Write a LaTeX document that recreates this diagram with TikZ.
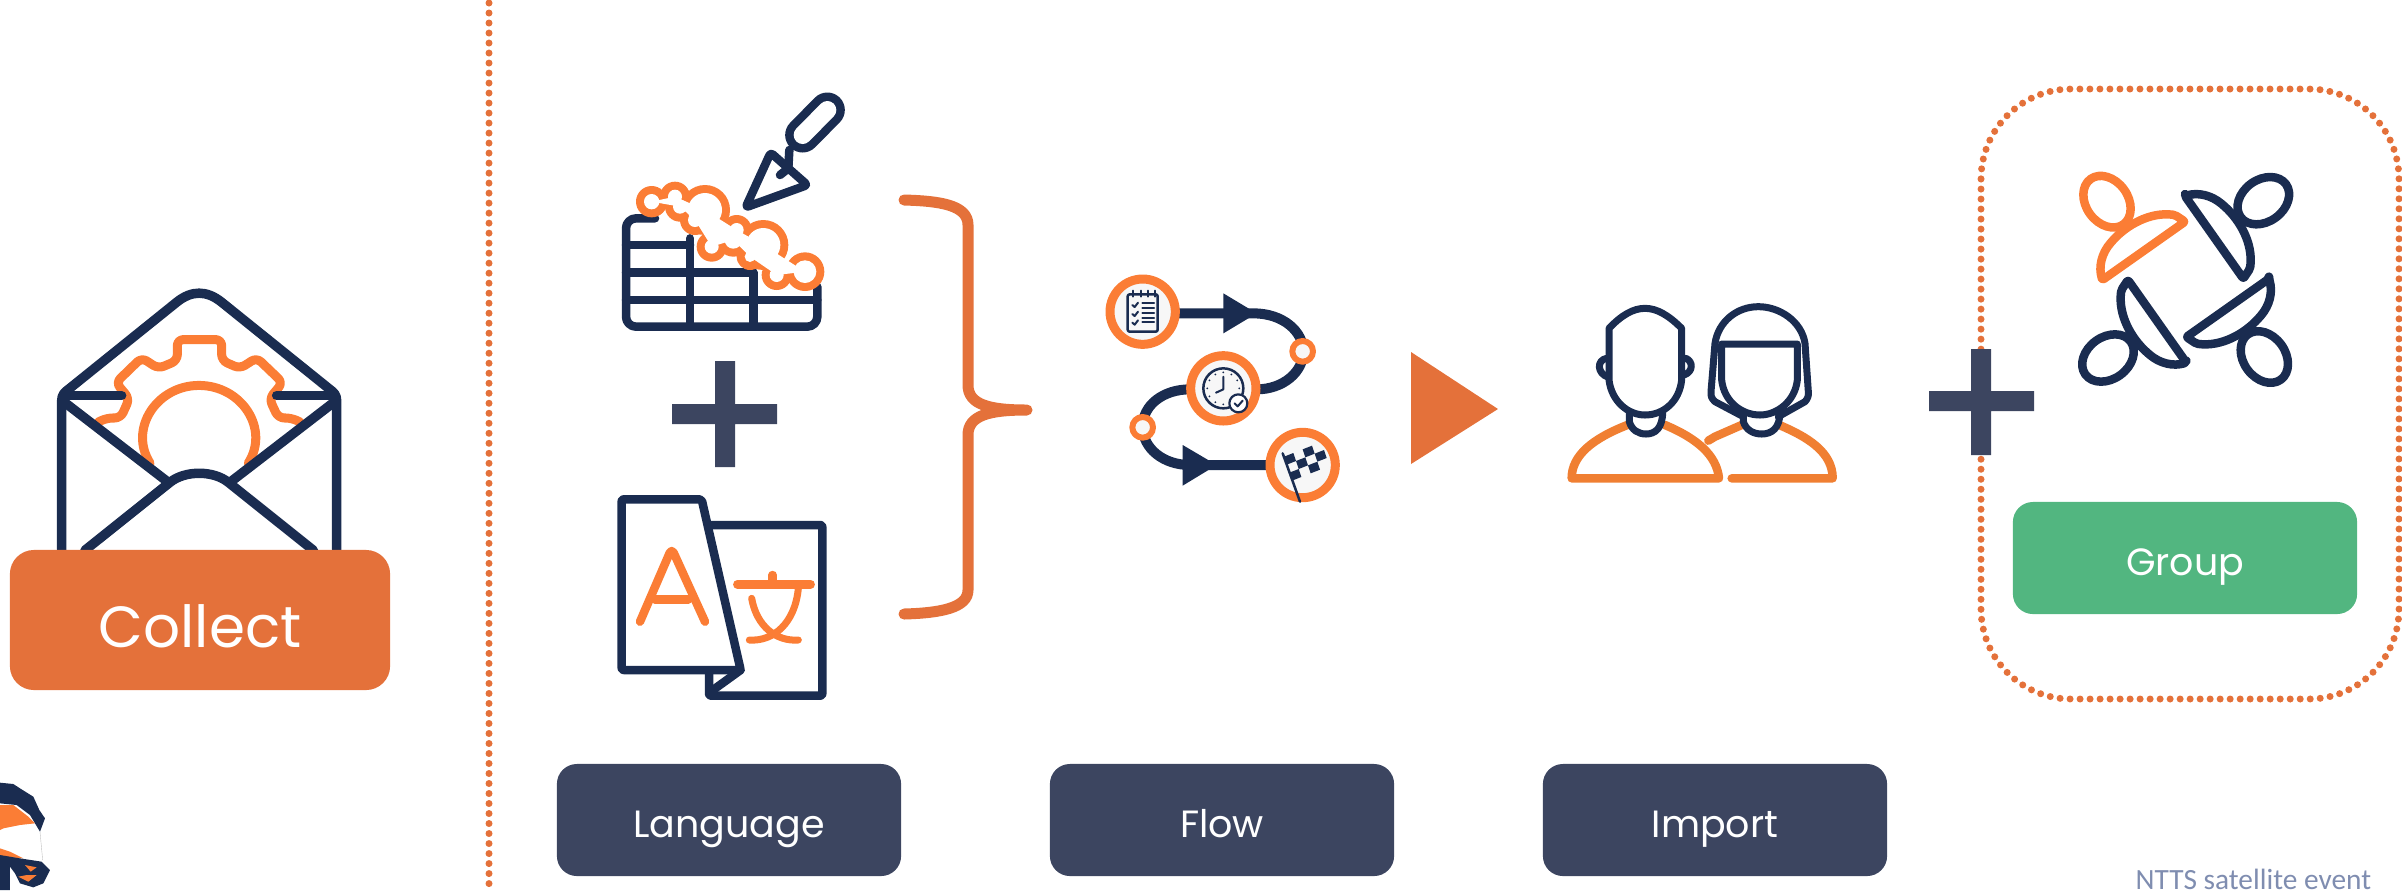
\documentclass[tikz,border=0pt]{standalone}
\usepackage{fontspec}
\setmainfont{Poppins}
\newfontfamily\notefont{Carlito}
\usetikzlibrary{calc}
\definecolor{navyline}{HTML}{1A2C50}
\definecolor{orangeline}{HTML}{FB7D35}
\definecolor{peopleline}{HTML}{F07F32}
\definecolor{orangebox}{HTML}{E4713A}
\definecolor{slatebox}{HTML}{3C4560}
\definecolor{greenbox}{HTML}{52B680}
\definecolor{notegrey}{HTML}{7F8DB0}

\begin{document}
\begin{tikzpicture}
    [x=0.01cm,y=-0.01cm,line join=round,line cap=round,%
      navy/.style={draw=navyline,line width=0.085cm},%
      orange/.style={draw=orangeline,line width=0.08cm},%
      label box/.style={rectangle,rounded corners=0.2cm,minimum width=3.44cm,minimum height=1.12cm,
        inner sep=0pt,text=white,text height=13pt,text depth=3pt,font=\fontsize{10.8}{13}\selectfont},%
      dots/.style={draw=orangebox,line width=0.07cm,dash pattern=on 0pt off 0.1cm},%
      ring/.style={draw=orangeline,fill=white!97!black,line width=0.09cm}]
    \useasboundingbox (0,0) rectangle (2402,890);
    \coordinate (septop) at (489,3);
    \coordinate (sepbottom) at (489,890);
    \draw[dots] (septop) -- (sepbottom);

    % envelope
    \begin{scope}[shift={(0,260)},xscale=1/3,yscale=0.402]
      \draw[orange,line width=0.09cm,rounded corners=0.06cm] (295,403) -- (320,393) -- (362,393) -- (388,345) -- (348,305)
        -- (425,243) -- (475,270) -- (532,250) -- (532,198) -- (665,198) -- (665,250) -- (720,270)
        -- (770,243) -- (848,305) -- (808,345) -- (835,393) -- (875,393) -- (900,403);
      \draw[orange,line width=0.09cm] (450,505) .. controls (385,420) and (470,312) .. (597,312)
        .. controls (725,312) and (810,420) .. (745,505);
      \fill[white] (190,345) -- (597,605) -- (1005,345) -- (1005,720) -- (190,720) -- cycle;
      \draw[navy,line width=0.095cm] (185,720) -- (185,350) .. controls (185,335) and (195,328) .. (205,322)
        -- (530,105) .. controls (575,75) and (620,75) .. (665,105) -- (990,322)
        .. controls (1000,328) and (1010,335) .. (1010,350) -- (1010,720);
      \draw[navy,line width=0.095cm] (200,337) -- (365,337) (830,337) -- (1000,337);
      \draw[navy,line width=0.095cm] (195,355) -- (505,553) (1000,355) -- (690,553);
      \draw[navy,line width=0.095cm] (255,722) -- (510,553) .. controls (555,523) and (640,523) .. (685,553) -- (940,722);
    \end{scope}
    \node[label box,fill=orangebox,minimum width=3.8cm,minimum height=1.4cm,rounded corners=0.24cm,
      text height=19pt,text depth=3.3pt,font=\fontsize{16.5}{20}\selectfont] (collect) at (200,620) {Collect};

    % logo
    \begin{scope}[shift={(0,760)},scale=1/3]
      \fill[navyline] (0,68) -- (40,72) -- (60,85) -- (100,110) -- (118,150) -- (135,175) -- (120,215) -- (90,165)
        -- (50,135) -- (0,130) -- cycle;
      \fill[orangeline] (0,135) -- (40,135) -- (85,170) -- (105,190) -- (60,195) -- (10,205) -- (0,210) -- cycle;
      \fill[orangeline] (0,265) -- (30,275) -- (70,295) -- (0,290) -- cycle;
      \fill[navyline] (0,285) -- (60,295) -- (125,305) -- (150,330) -- (130,370) -- (100,382) -- (60,370)
        -- (45,340) -- (30,320) -- (30,390) -- (0,390) -- cycle;
      \fill[orangeline] (75,315) -- (110,322) -- (92,335) -- cycle;
      \fill[orangeline] (55,350) -- (80,345) -- (110,345) -- (85,365) -- cycle;
      \draw[black!25,line width=0.004cm] (120,215) -- (128,300);
    \end{scope}

    % table and trowel
    \begin{scope}[shift={(580,70)},scale=1/3]
      \draw[navy,rounded corners=0.1cm] (712,650) -- (712,770) -- (138,770) -- (138,445) -- (225,445);
      \draw[navy] (138,525) -- (330,525) (138,608) -- (520,608) (138,690) -- (712,690);
      \draw[navy] (330,505) -- (330,770) (520,608) -- (520,770);
      \draw[navy,double=white,double distance=0.18cm] (668,195) -- (742,120);
      \draw[navy] (628,240) -- (625,295) -- (600,315);
      \draw[navy,rounded corners=0.03cm] (572,248) -- (682,345) -- (497,412) -- cycle;
      \foreach \cx/\cy/\rad in {215/395/47,285/380/45,375/420/75,470/480/45,550/525/75,675/605/58,590/615/45,
          510/560/40,460/510/50,395/530/45,345/450/45,300/410/45}
        \fill[orangeline] (\cx,\cy) circle[radius=\rad];
      \foreach \cx/\cy/\rad in {215/395/47,285/380/45,375/420/75,470/480/45,550/525/75,675/605/58,590/615/45,
          510/560/40,460/510/50,395/530/45,345/450/45,300/410/45}
        \fill[white] (\cx,\cy) circle[radius=\rad-24];
      \fill[white] (215,395) -- (285,380) -- (375,420) -- (470,480) -- (550,525) -- (675,605) -- (590,615)
        -- (510,560) -- (460,510) -- (395,530) -- (345,450) -- (300,410) -- cycle;
    \end{scope}

    % plus between the two
    \fill[slatebox] (672,404) rectangle (777,424) (715,361) rectangle (735,467);

    % pages
    \begin{scope}[shift={(590,470)},scale=1/3]
      \draw[navy,rounded corners=0.02cm] (350,165) -- (697,165) -- (697,677) -- (357,677) -- (357,610);
      \draw[navy,fill=white,rounded corners=0.02cm] (95,88) -- (335,88) -- (452,600) -- (95,600) -- cycle;
      \draw[navy] (362,665) -- (452,600);
      \draw[orange,line width=0.085cm,rounded corners=0.05cm] (150,455) -- (245,235) -- (345,455);
      \draw[orange,line width=0.085cm] (195,388) -- (295,388);
      \draw[orange,line width=0.085cm] (442,343) -- (662,343) (548,315) -- (548,343);
      \draw[orange,line width=0.07cm] (485,385) .. controls (500,470) and (560,515) .. (625,510);
      \draw[orange,line width=0.07cm] (625,355) .. controls (615,460) and (550,515) .. (478,510);
    \end{scope}

    % brace
    \draw[draw=orangebox,line width=0.11cm] (904,200) .. controls (940,201) and (968,205) .. (968,225) -- (968,385)
      .. controls (968,405) and (990,410) .. (1027,410) .. controls (990,410) and (968,415) .. (968,435) -- (968,590)
      .. controls (968,608) and (940,613) .. (904,614);

    % flow
    \begin{scope}[shift={(1080,260)},scale=1/3]
      \draw[navy,line width=0.1cm] (188,160) -- (520,160) .. controls (610,160) and (670,215) .. (670,275)
        .. controls (670,335) and (610,388) .. (530,388) -- (430,388);
      \draw[navy,line width=0.1cm] (330,388) .. controls (250,388) and (188,435) .. (188,500)
        .. controls (188,565) and (250,615) .. (330,615) -- (670,615);
      \fill[navyline] (430,100) -- (530,160) -- (430,220) -- cycle (308,555) -- (410,615) -- (308,677) -- cycle;
      \draw[ring] (188,155) circle[radius=98];
      \draw[ring] (430,385) circle[radius=98];
      \draw[ring] (668,615) circle[radius=98];
      \draw[ring,line width=0.06cm] (668,274) circle[radius=31];
      \draw[ring,line width=0.06cm] (188,502) circle[radius=31];
      % notebook
      \draw[navy,line width=0.025cm,rounded corners=0.02cm] (143,103) rectangle (233,215);
      \foreach \xpos in {160,183,205,225}
        \draw[navy,line width=0.02cm] (\xpos,92) -- (\xpos,110);
      \foreach \ypos in {130,145,160,173,187}
        \draw[navy,line width=0.02cm] (187,\ypos) -- (222,\ypos);
      \foreach \ypos in {135,162,188}
        \draw[navy,line width=0.02cm] (157,\ypos) -- (164,\ypos+6) -- (174,\ypos-7);
      % clock
      \draw[navy,line width=0.025cm] (430,385) circle[radius=60];
      \draw[navy,line width=0.02cm] (430,350) -- (430,388) -- (408,398);
      \foreach \ang in {0,30,...,330}
        \fill[navyline] (430,385) ++(\ang:48) circle[radius=3];
      \draw[navy,line width=0.022cm,fill=white] (475,430) circle[radius=27];
      \draw[navy,line width=0.02cm] (464,430) -- (473,439) -- (488,422);
      % flag
      \draw[navy,line width=0.025cm] (608,580) -- (660,725);
      \foreach \colnum/\rownum in {0/0,2/0,1/1,3/1,0/2,2/2}
        \fill[navyline] ({612+\colnum*28+\rownum*8},{590-\colnum*11+\rownum*24}) -- ++(28,-11) -- ++(8,24) -- ++(-28,11) -- cycle;
    \end{scope}

    % triangle
    \fill[orangebox] (1411,352) -- (1498,409) -- (1411,464) -- cycle;

    % people
    \begin{scope}[shift={(1540,280)},scale=1/3]
      \draw[draw=peopleline,line width=0.085cm] (262,435) .. controls (160,475) and (95,525) .. (95,595) -- (537,595)
        .. controls (530,525) and (470,475) .. (375,435);
      \draw[draw=peopleline,line width=0.085cm] (505,482) -- (525,470) -- (605,435);
      \draw[draw=peopleline,line width=0.085cm] (718,435) .. controls (800,470) and (878,515) .. (878,595) -- (575,595);
      \draw[navy,line width=0.07cm] (207,145) -- (207,300) .. controls (215,365) and (265,405) .. (315,405)
        .. controls (370,405) and (418,365) .. (425,300) -- (425,145) .. controls (385,105) and (350,85) .. (315,85)
        .. controls (280,85) and (245,105) .. (207,145) -- cycle;
      \draw[navy,line width=0.07cm] (200,235) .. controls (170,240) and (170,280) .. (205,292);
      \draw[navy,line width=0.07cm] (438,235) .. controls (460,245) and (460,275) .. (432,285);
      \draw[navy,line width=0.07cm] (268,395) -- (268,425) .. controls (275,450) and (295,462) .. (318,462)
        .. controls (345,462) and (368,445) .. (368,395);
      \draw[navy,line width=0.07cm] (610,410) -- (525,365) .. controls (515,355) and (512,350) .. (513,335) -- (525,190)
        .. controls (535,125) and (590,80) .. (655,80) .. controls (720,80) and (785,125) .. (795,190)
        -- (805,335) .. controls (806,350) and (803,355) .. (795,365) -- (715,410);
      \draw[navy,line width=0.07cm] (545,192) -- (772,192) -- (772,300) .. controls (765,365) and (710,405) .. (660,405)
        .. controls (605,405) and (552,365) .. (545,300) -- cycle;
      \draw[navy,line width=0.07cm] (610,395) -- (610,425) .. controls (618,450) and (640,462) .. (665,462)
        .. controls (695,462) and (720,445) .. (720,395);
    \end{scope}

    % group frame
    \draw[dots,rounded corners=0.9cm] (1981,89) rectangle (2399,699);

    % plus before group
    \fill[slatebox] (1929,391) rectangle (2034,411) (1971,349) rectangle (1991,455);

    % four persons
    \begin{scope}[shift={(2040,150)},scale=1/3]
      \foreach \ang/\tone in {0/orangeline,90/navyline,180/navyline,270/navyline}
      {
        \begin{scope}[rotate around={\ang:(437,388)}]
          \draw[draw=\tone,line width=0.085cm] (201,155) circle[x radius=84,y radius=63,rotate=-54];
          \draw[draw=\tone,line width=0.085cm,rounded corners=0.02cm] (187,390) -- (435,215) -- (405,195)
            .. controls (330,185) and (260,225) .. (215,275) .. controls (185,310) and (175,350) .. (187,390) -- cycle;
        \end{scope}
      }
    \end{scope}

    \node[label box,fill=slatebox] (language) at (729,820) {Language};
    \node[label box,fill=slatebox] (flow) at (1222,820) {Flow};
    \node[label box,fill=slatebox] (import) at (1715,820) {Import};
    \node[label box,fill=greenbox] (group) at (2185,558) {Group};
    \node[anchor=base west,inner sep=0pt,text=notegrey,text depth=0pt,font=\notefont\fontsize{8.35}{10}\selectfont] (note) at (2135,889) {NTTS satellite event};
\end{tikzpicture}
\end{document}
